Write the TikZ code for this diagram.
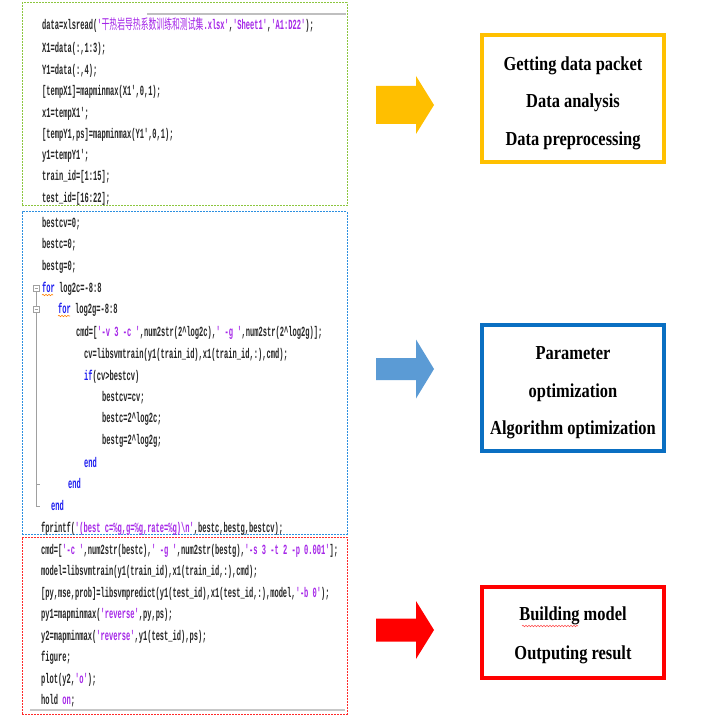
\documentclass[tikz,border=0pt]{standalone}
\usepackage{fontspec}
\usetikzlibrary{decorations.pathmorphing}

% condensed code font, CJK font for the file name, bold serif for the stage labels
\newfontfamily\codefont[FakeStretch=0.505,Ligatures=TeXOff]{Liberation Mono}
\newfontfamily\cjkfont[FakeStretch=0.56]{Noto Sans CJK SC}
\newfontfamily\labelfont[FakeStretch=0.83]{Liberation Serif}

\definecolor{strcol}{HTML}{A526E8}
\definecolor{kwcol}{HTML}{1C1CF0}
\definecolor{gdash}{HTML}{8CC63F}
\definecolor{bdash}{HTML}{2C8FE0}
\definecolor{rdash}{HTML}{FF2A2A}
\definecolor{yellowline}{HTML}{FFC000}
\definecolor{blueline}{HTML}{0A6FC2}
\definecolor{redline}{HTML}{FF0000}
\definecolor{yellowarrow}{HTML}{FFBF00}
\definecolor{bluearrow}{HTML}{5B9BD5}
\definecolor{redarrow}{HTML}{FF0000}
\definecolor{foldgrey}{HTML}{A0A0A0}

\newcommand\str[1]{\textcolor{strcol}{#1}}
\newcommand\kw[1]{\textcolor{kwcol}{#1}}
\newcommand\caret{\textasciicircum}

\tikzset{
  codeline/.style={anchor=base west, inner sep=0pt,
    font=\codefont\bfseries\fontsize{14}{15}\selectfont, text=black!85},
  codebox/.style={draw=#1, line width=1pt, dash pattern=on 2pt off 1pt,
    inner sep=0pt},
  stagebox/.style={draw=#1, line width=4pt, inner sep=0pt},
  stagetext/.style={inner sep=0pt, align=center,
    font=\labelfont\bfseries\fontsize{19.8}{37.5}\selectfont},
  squiggle/.style={draw=#1, line width=0.6pt,
    decorate, decoration={snake, amplitude=0.7pt, segment length=3pt}},
}

\begin{document}
\begin{tikzpicture}[x=1pt,y=-1pt]
\useasboundingbox (0,0) rectangle (705,719);
\fill[white] (0,0) rectangle (705,719);

% screenshot edges
\draw[black!25, line width=1.5pt] (147,14) -- (346,14);
\draw[black!22, line width=1.5pt] (30,710) -- (345,710);

% dashed frames round the three code blocks
\node[codebox=gdash, minimum width=325pt, minimum height=203pt] (gframe) at (184.5,104.5) {};
\node[codebox=bdash, minimum width=325pt, minimum height=322pt] (bframe) at (184.5,373) {};
\node[codebox=rdash, minimum width=325pt, minimum height=177pt] (rframe) at (184.5,625.5) {};

% --- data loading and preprocessing
\node[codeline] (g1) at (42,30) {data=xlsread(\str{'{\cjkfont\mdseries 干热岩导热系数训练和测试集}.xlsx'},\str{'Sheet1'},\str{'A1:D22'});};
\node[codeline] (g2) at (42,52.5) {X1=data(:,1:3);};
\node[codeline] (g3) at (42,74.5) {Y1=data(:,4);};
\node[codeline] (g4) at (42,96) {[tempX1]=mapminmax(X1',0,1);};
\node[codeline] (g5) at (42,117.5) {x1=tempX1';};
\node[codeline] (g6) at (42,138.5) {[tempY1,ps]=mapminmax(Y1',0,1);};
\node[codeline] (g7) at (42,159.5) {y1=tempY1';};
\node[codeline] (g8) at (42,181) {train\_id=[1:15];};
\node[codeline] (g9) at (42,203) {test\_id=[16:22];};

% --- grid search over c and g
\node[codeline] (b1) at (42,227) {bestcv=0;};
\node[codeline] (b2) at (42,248) {bestc=0;};
\node[codeline] (b3) at (42,270) {bestg=0;};
\node[codeline] (b4) at (42,292) {\kw{for} log2c=-8:8};
\node[codeline] (b5) at (58,313) {\kw{for} log2g=-8:8};
\node[codeline] (b6) at (76,336) {cmd=[\str{'-v 3 -c '},num2str(2\caret log2c),\str{' -g '},num2str(2\caret log2g)];};
\node[codeline] (b7) at (84,358) {cv=libsvmtrain(y1(train\_id),x1(train\_id,:),cmd);};
\node[codeline] (b8) at (84,380) {\kw{if}(cv>bestcv)};
\node[codeline] (b9) at (102,401) {bestcv=cv;};
\node[codeline] (b10) at (102,422) {bestc=2\caret log2c;};
\node[codeline] (b11) at (102,444) {bestg=2\caret log2g;};
\node[codeline] (b12) at (84,467) {\kw{end}};
\node[codeline] (b13) at (68,488) {\kw{end}};
\node[codeline] (b14) at (51,510) {\kw{end}};
\node[codeline] (b15) at (41,532) {fprintf(\str{'(best c=\%g,g=\%g,rate=\%g)\textbackslash n'},bestc,bestg,bestcv);};

% editor fold markers beside the loops
\draw[foldgrey, line width=0.6pt] (33,285) rectangle (39,291);
\draw[foldgrey, line width=0.6pt] (34.5,288) -- (37.5,288);
\draw[foldgrey, line width=0.6pt] (33,306) rectangle (39,312);
\draw[foldgrey, line width=0.6pt] (34.5,309) -- (37.5,309);
\draw[foldgrey, line width=0.6pt] (36,291) -- (36,306);
\draw[foldgrey, line width=0.6pt] (36,312) -- (36,506) -- (40,506);
\draw[foldgrey, line width=0.6pt] (36,484) -- (40,484);

% spell-check squiggles under the loop keywords
\draw[squiggle=orange] (42,295) -- (53,295);
\draw[squiggle=orange] (58,316) -- (70,316);

% --- final model, prediction and output
\node[codeline] (r1) at (41,554) {cmd=[\str{'-c '},num2str(bestc),\str{' -g '},num2str(bestg),\str{'-s 3 -t 2 -p 0.001'}];};
\node[codeline] (r2) at (41,575.5) {model=libsvmtrain(y1(train\_id),x1(train\_id,:),cmd);};
\node[codeline] (r3) at (41,597) {[py,mse,prob]=libsvmpredict(y1(test\_id),x1(test\_id,:),model,\str{'-b 0'});};
\node[codeline] (r4) at (41,618.5) {py1=mapminmax(\str{'reverse'},py,ps);};
\node[codeline] (r5) at (41,640) {y2=mapminmax(\str{'reverse'},y1(test\_id),ps);};
\node[codeline] (r6) at (41,661.5) {figure;};
\node[codeline] (r7) at (41,683) {plot(y2,\str{'o'});};
\node[codeline] (r8) at (41,704.5) {hold \str{on};};

% --- block arrows pointing to the stage descriptions
\fill[yellowarrow] (376,86) -- (416,86) -- (416,76) -- (434,105) -- (416,134) -- (416,124) -- (376,124) -- cycle;
\fill[bluearrow] (376,358) -- (416,358) -- (416,339.5) -- (434,369) -- (416,398.5) -- (416,380) -- (376,380) -- cycle;
\fill[redarrow] (376,618.5) -- (416,618.5) -- (416,601) -- (434,630) -- (416,659) -- (416,641.5) -- (376,641.5) -- cycle;

% --- stage descriptions
\node[stagebox=yellowline, minimum width=182pt, minimum height=127pt] (ystage) at (573,98.5) {};
\node[stagetext] (ytext) at ([yshift=-4.5pt]ystage.center)
  {Getting data packet\\Data analysis\\Data preprocessing};
\node[stagebox=blueline, minimum width=182pt, minimum height=126pt] (bstage) at (573,388) {};
\node[stagetext] (btext) at ([yshift=-5pt]bstage.center)
  {Parameter\\optimization\\Algorithm optimization};
\node[stagebox=redline, minimum width=182pt, minimum height=91pt] (rstage) at (573,632.5) {};
\node[stagetext] (rtext) at ([yshift=-2.5pt]rstage.center)
  {Building model\\[1.5pt]Outputing result};
\draw[squiggle=red!70] (522,626) -- (578,626);
\end{tikzpicture}
\end{document}
